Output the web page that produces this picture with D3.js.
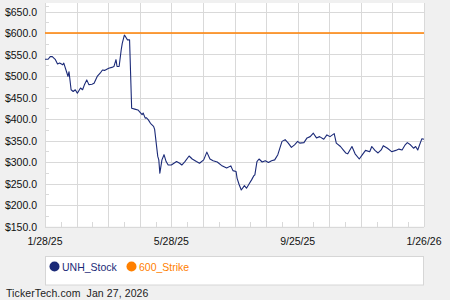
<!DOCTYPE html>
<html>
<head>
<meta charset="utf-8">
<script src="https://cdn.jsdelivr.net/npm/d3@7"></script>
<style>
  body { margin: 0; background: #f0f0f0; }
  svg { display: block; font-family: "Liberation Sans", Arial, sans-serif; }
</style>
</head>
<body>
<script>
// Data: days since 1/28/25 and closing price
var startDate = new Date(2025, 0, 28);
var dayOffsets = [0, 3, 5, 7, 10, 12, 14, 17, 18, 21, 22, 23, 25, 27, 29, 31, 34, 36, 38, 40,
  42, 45, 47, 50, 53, 55, 57, 61, 64, 66, 68, 69, 71, 73, 74, 76, 77, 79, 81, 83,
  86, 89, 93, 94, 96, 97, 99, 101, 104, 105, 108, 109, 110, 112, 114, 116, 118, 121, 126, 129,
  131, 134, 138, 141, 145, 148, 152, 155, 158, 161, 165, 169, 174, 178, 180, 183, 184, 186, 188, 191,
  193, 195, 198, 200, 201, 203, 205, 208, 211, 214, 217, 220, 223, 227, 230, 233, 236, 239, 242, 244,
  248, 251, 254, 257, 260, 263, 267, 270, 273, 277, 279, 283, 286, 288, 290, 294, 297, 301, 304, 307,
  311, 313, 316, 319, 322, 324, 328, 332, 336, 339, 342, 345, 347, 350, 353, 355, 357, 360, 361, 363];
var stockPrices = [539, 539, 545, 545, 538, 528, 530, 526, 530, 507, 499, 510, 468, 464, 468, 460, 472, 468, 481, 491,
  480, 481, 483, 499, 507, 514, 513, 518, 520, 522, 538, 522, 522, 561, 576, 595, 592, 584, 584, 425,
  423, 421, 410, 414, 402, 403, 398, 390, 383, 376, 313, 305, 274, 305, 317, 301, 293, 293, 301, 297,
  293, 301, 314, 307, 301, 297, 305, 323, 307, 303, 300, 292, 286, 291, 280, 278, 262, 247, 235, 245,
  239, 247, 259, 268, 270, 301, 307, 300, 303, 299, 303, 305, 317, 348, 352, 344, 334, 340, 348, 344,
  345, 356, 359, 367, 356, 359, 353, 363, 359, 366, 344, 336, 327, 321, 319, 336, 319, 307, 317, 327,
  324, 336, 327, 321, 328, 338, 332, 324, 327, 330, 328, 340, 345, 340, 332, 336, 328, 348, 354, 353];
var strikePrice = 600;
var yTicks = [150, 200, 250, 300, 350, 400, 450, 500, 550, 600, 650];
var xTickLabels = ["1/28/25", "5/28/25", "9/25/25", "1/26/26"];
var seriesNames = ["UNH_Stock", "600_Strike"];
var footerText = "TickerTech.com  Jan 27, 2026";

var W = 450, H = 300;
var plot = { left: 45, right: 424, top: 3, bottom: 226.5 };
var navy = "#1b2a78", orange = "#ff8000", gridColor = "#d9d9d9";

var svg = d3.select("body").append("svg")
  .attr("width", W)
  .attr("height", H);

svg.append("rect").attr("width", W).attr("height", H).attr("fill", "#f0f0f0");

var endDate = d3.timeDay.offset(startDate, 363);
var x = d3.scaleTime().domain([startDate, endDate]).range([plot.left, plot.right]);
var y = d3.scaleLinear().domain([150, 650]).range([plot.bottom, 11.5]);

// plot background
svg.append("rect")
  .attr("x", plot.left).attr("y", plot.top)
  .attr("width", plot.right - plot.left).attr("height", plot.bottom - plot.top)
  .attr("fill", "#fff");

// vertical grid: 12 equal divisions, minor ticks between
var xFrac = d3.scaleLinear().domain([0, 24]).range([plot.left, plot.right]);
var grid = svg.append("g").attr("shape-rendering", "crispEdges");
d3.range(0, 25).forEach(function (i) {
  var px = Math.round(xFrac(i)) + 0.5;
  if (i % 2 === 0) {
    grid.append("line").attr("x1", px).attr("x2", px)
      .attr("y1", plot.top).attr("y2", plot.bottom)
      .attr("stroke", gridColor);
  } else {
    grid.append("line").attr("x1", px).attr("x2", px)
      .attr("y1", plot.bottom - 5).attr("y2", plot.bottom)
      .attr("stroke", gridColor);
  }
});

// horizontal grid + minor ticks
yTicks.forEach(function (v, i) {
  var py = Math.round(y(v)) + 0.5;
  grid.append("line").attr("x1", plot.left).attr("x2", plot.right)
    .attr("y1", py).attr("y2", py).attr("stroke", gridColor);
  if (i < yTicks.length - 1) {
    var my = Math.round(y(v + 25)) + 0.5;
    grid.append("line").attr("x1", plot.left).attr("x2", plot.left + 4)
      .attr("y1", my).attr("y2", my).attr("stroke", gridColor);
  }
});
// top minor tick above 650
grid.append("line").attr("x1", plot.left).attr("x2", plot.left + 4)
  .attr("y1", Math.round(y(662.5)) + 0.5).attr("y2", Math.round(y(662.5)) + 0.5)
  .attr("stroke", gridColor);

// y labels
svg.append("g").selectAll("text").data(yTicks).join("text")
  .attr("x", 37).attr("y", function (d) { return y(d) + 4; })
  .attr("text-anchor", "end")
  .attr("font-size", "10.5px").attr("fill", "#111")
  .text(function (d) { return "$" + d.toFixed(1); });

// x labels
svg.append("g").selectAll("text").data(xTickLabels).join("text")
  .attr("x", function (d, i) { return xFrac(i * 8); })
  .attr("y", 245)
  .attr("text-anchor", "middle")
  .attr("font-size", "10.5px").attr("fill", "#111")
  .text(function (d) { return d; });

// strike line
svg.append("line")
  .attr("x1", plot.left).attr("x2", plot.right)
  .attr("y1", y(strikePrice)).attr("y2", y(strikePrice))
  .attr("stroke", orange).attr("stroke-width", 1.5);

// stock line
var points = dayOffsets.map(function (d, i) {
  return { date: d3.timeDay.offset(startDate, d), value: stockPrices[i] };
});
var line = d3.line()
  .x(function (d) { return x(d.date); })
  .y(function (d) { return y(d.value); });
svg.append("path").datum(points)
  .attr("d", line)
  .attr("fill", "none")
  .attr("stroke", navy)
  .attr("stroke-width", 1.1)
  .attr("stroke-linejoin", "round");

// legend
var legend = svg.append("g");
legend.append("rect")
  .attr("x", 45.5).attr("y", 256.5).attr("width", 378).attr("height", 28.5)
  .attr("fill", "#fff").attr("stroke", "#d6d6d6");
var legendX = [54.5, 131.5];
var legendColors = [navy, orange];
seriesNames.forEach(function (name, i) {
  legend.append("circle").attr("cx", legendX[i]).attr("cy", 266.5).attr("r", 5)
    .attr("fill", legendColors[i]);
  legend.append("text").attr("x", legendX[i] + 7.5).attr("y", 270.5)
    .attr("font-size", "10.5px").attr("fill", legendColors[i])
    .text(name);
});

// footer
svg.append("text")
  .attr("x", 6).attr("y", 297)
  .attr("font-size", "10.5px").attr("fill", "#222")
  .attr("letter-spacing", "0.1px")
  .attr("xml:space", "preserve")
  .style("white-space", "pre")
  .text(footerText);
</script>
</body>
</html>
